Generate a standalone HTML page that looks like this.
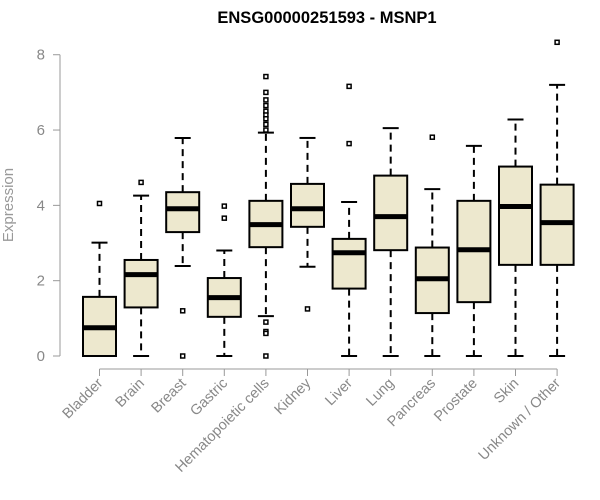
<!DOCTYPE html>
<html><head><meta charset="utf-8"><style>
html,body{margin:0;padding:0;background:#fff;}
svg{display:block;font-family:"Liberation Sans",Arial,sans-serif;}
</style></head><body>
<svg id="chart" width="600" height="500" viewBox="0 0 600 500">
<text x="327" y="23" text-anchor="middle" font-size="16.5" font-weight="bold" fill="#000">ENSG00000251593 - MSNP1</text>
<text transform="translate(13,205) rotate(-90)" text-anchor="middle" font-size="15" fill="#999">Expression</text>
<g id="yaxis"></g>
<g id="xaxis"></g>
<g id="boxes"></g>
</svg>
<script>
const categories=["Bladder","Brain","Breast","Gastric","Hematopoietic cells","Kidney","Liver","Lung","Pancreas","Prostate","Skin","Unknown / Other"];
const q1=[0,1.29,3.29,1.04,2.89,3.43,1.79,2.81,1.14,1.43,2.42,2.42];
const medians=[0.75,2.16,3.91,1.55,3.49,3.91,2.74,3.7,2.05,2.82,3.97,3.54];
const q3=[1.57,2.55,4.35,2.07,4.12,4.57,3.11,4.79,2.88,4.12,5.03,4.55];
const whiskerLow=[0,0,2.39,0,1.06,2.37,0,0,0,0,0,0];
const whiskerHigh=[3.01,4.26,5.79,2.8,5.93,5.79,4.09,6.05,4.43,5.58,6.28,7.2];
const outliers=[[4.05],[4.61],[1.2,0],[3.98,3.66],[7.42,7.0,6.8,6.65,6.5,6.4,6.3,6.15,6.0,0.9,0.65,0.6,0],[1.25],[7.16,5.64],[],[5.81],[],[],[8.33]];
const yTicks=[0,2,4,6,8];
const NS="http://www.w3.org/2000/svg";
const y=v=>356-v*37.66;
const x=i=>99.5+i*41.6;
function mk(tag,attrs,parent){const e=document.createElementNS(NS,tag);for(const k in attrs)e.setAttribute(k,attrs[k]);parent.appendChild(e);return e;}
const ya=document.getElementById('yaxis'),xa=document.getElementById('xaxis'),bx=document.getElementById('boxes');
let l=mk('line',{x1:60,x2:60,y1:y(8),y2:y(0),stroke:'#999','stroke-width':1},ya);


yTicks.forEach(t=>{
 const tk=mk('line',{x1:53,x2:60,y1:y(t),y2:y(t),stroke:'#999'},ya);
 
 
 const tx=mk('text',{x:45,y:y(t)+5,'text-anchor':'end','font-size':15,fill:'#888'},ya);
 tx.textContent=t;
 
 
});
l=mk('line',{x1:x(0),x2:x(categories.length-1),y1:369,y2:369,stroke:'#999'},xa);


categories.forEach((c,i)=>{
 const cx=x(i);
 const tk=mk('line',{x1:cx,x2:cx,y1:369,y2:376,stroke:'#999'},xa);
 
 
 const tx=mk('text',{transform:`translate(${cx+4},${384}) rotate(-45)`,'text-anchor':'end','font-size':14.5,fill:'#888'},xa);
 tx.textContent=c;
 
 
 const g=mk('g',{},bx);
 
 
 const dash={stroke:'#000','stroke-width':2,'stroke-dasharray':'7,5'};
 mk('line',Object.assign({x1:cx,x2:cx,y1:y(q3[i]),y2:y(whiskerHigh[i])},dash),g);
 mk('line',Object.assign({x1:cx,x2:cx,y1:y(q1[i]),y2:y(whiskerLow[i])},dash),g);
 mk('line',{x1:cx-8,x2:cx+8,y1:y(whiskerHigh[i]),y2:y(whiskerHigh[i]),stroke:'#000','stroke-width':2},g);
 mk('line',{x1:cx-8,x2:cx+8,y1:y(whiskerLow[i]),y2:y(whiskerLow[i]),stroke:'#000','stroke-width':2},g);
 mk('rect',{x:cx-16.5,y:y(q3[i]),width:33,height:y(q1[i])-y(q3[i]),fill:'#EDE8CE',stroke:'#000','stroke-width':2},g);
 mk('line',{x1:cx-16.5,x2:cx+16.5,y1:y(medians[i]),y2:y(medians[i]),stroke:'#000','stroke-width':5},g);
 outliers[i].forEach(o=>{
  const p=mk('rect',{x:cx-2,y:y(o)-2,width:4,height:4,fill:'#fff',stroke:'#000','stroke-width':1.5},g);
  
  
 });
});
</script>
</body></html>
